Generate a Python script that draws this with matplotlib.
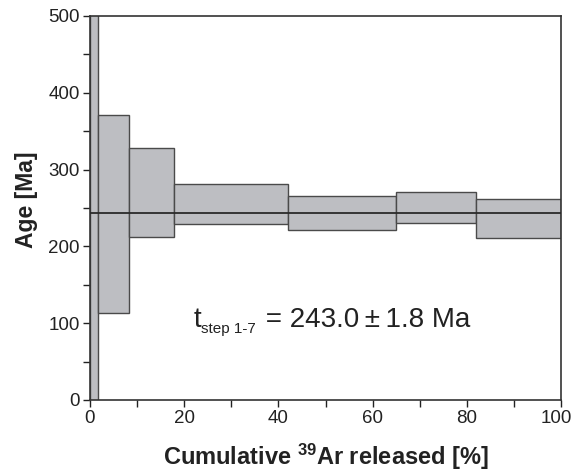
import matplotlib
matplotlib.use("Agg")
import matplotlib.pyplot as plt
from matplotlib.transforms import offset_copy, ScaledTranslation
import numpy as np

plt.rcParams['font.family'] = ['Liberation Sans', 'DejaVu Sans']
plt.rcParams['mathtext.fontset'] = 'custom'
plt.rcParams['mathtext.rm'] = 'Liberation Sans'
plt.rcParams['mathtext.it'] = 'Liberation Sans'
plt.rcParams['mathtext.bf'] = 'Liberation Sans:bold'

# cumulative 39Ar released boundaries (%)
cum_edges = [0.0, 1.7, 8.3, 17.9, 42.1, 65.0, 82.0, 100.0]
# age ranges per step (Ma)
age_low = [-50, 113, 212, 229.5, 221.5, 230, 210.5]
age_high = [650, 370.5, 327.5, 281, 265, 271, 262]
plateau_age = 243.0

fig = plt.figure(figsize=(5.71, 4.72), dpi=100)
ax = fig.add_axes([90/571, 72/472, 471/571, 384/472])

lefts = np.array(cum_edges[:-1])
widths = np.diff(cum_edges)
lows = np.array(age_low)
heights = np.array(age_high) - lows
ax.bar(lefts, heights, width=widths, bottom=lows, align='edge',
       facecolor='#bdbec2', edgecolor='#4a4a4a', linewidth=1.0, zorder=2)
ax.axhline(plateau_age, color='#2a2a2a', linewidth=1.3, zorder=3)

ax.set_xlim(0, 100)
ax.set_ylim(0, 500)
ax.set_xticks(np.arange(0, 101, 20))
ax.set_xticks(np.arange(0, 101, 10), minor=True)
ax.set_yticks(np.arange(0, 501, 100))
ax.set_yticks(np.arange(0, 501, 50), minor=True)
ax.tick_params(which='both', direction='out', length=5, width=1, color='#222222',
               labelsize=13.5, labelcolor='#222222', pad=2.5)
ax.tick_params(which='both', top=False, right=False)
for s in ax.spines.values():
    s.set_color('#333333')
    s.set_linewidth(1.2)

ax.set_xlabel(r'Cumulative $\mathbf{^{39}}$Ar released [%]', fontsize=17,
              fontweight='bold', color='#222222', labelpad=10)
ax.set_ylabel('Age [Ma]', fontsize=16.5, fontweight='bold', color='#222222')
ax.yaxis.set_label_coords(-0.11, 0.521)

# annotation: t_step 1-7 = 243.0 ± 1.8 Ma
x0, y0 = 21.9, 95
t1 = ax.text(x0, y0, 't', fontsize=20, color='#222222', va='baseline', ha='left', zorder=4)
fig.canvas.draw()
bb = t1.get_window_extent()
w_pt = bb.width * 72 / fig.dpi
t2 = ax.text(x0, y0, 'step 1-7', fontsize=11, color='#222222', va='baseline', ha='left',
             transform=offset_copy(ax.transData, fig=fig, x=w_pt, y=-4, units='points'), zorder=4)
fig.canvas.draw()
bb2 = t2.get_window_extent()
w2_pt = (bb2.x1 - bb.x0) * 72 / fig.dpi
ax.text(x0, y0, ' = 243.0\u2009±\u20091.8 Ma', fontsize=20, color='#222222', va='baseline', ha='left',
        transform=offset_copy(ax.transData, fig=fig, x=w2_pt + 1.5, y=0, units='points'), zorder=4)

# nudge the last x tick label so it stays inside the figure
last = ax.xaxis.get_major_ticks()[-1].label1
last.set_transform(last.get_transform() + ScaledTranslation(-5/100, 0, fig.dpi_scale_trans))

fig.savefig('out.png', dpi=100)
